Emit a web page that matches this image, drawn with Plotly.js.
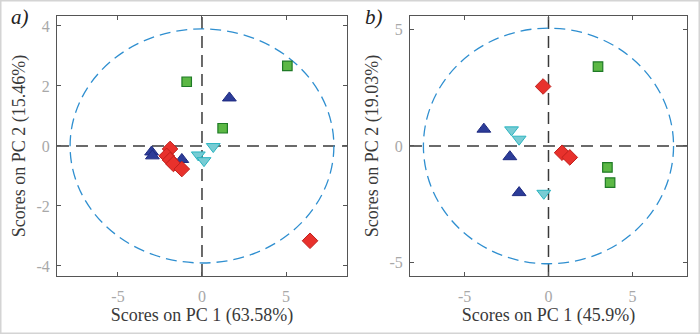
<!DOCTYPE html>
<html>
<head>
<meta charset="utf-8">
<script src="https://cdn.plot.ly/plotly-3.0.1.min.js"></script>
<style>html,body{margin:0;padding:0;background:#fff;}#chart{width:700px;height:334px;}</style>
</head>
<body>
<div id="chart"></div>
<script>
// Panel a) PCA scores
const aRedX = [-1.9, -2.1, -1.9, -1.7, -1.2, 6.43];
const aRedY = [-0.1, -0.33, -0.47, -0.6, -0.77, -3.16];
const aBlueX = [-3.0, -2.95, -1.2, 1.63];
const aBlueY = [-0.2, -0.33, -0.45, 1.6];
const aCyanX = [-0.22, 0.12, 0.67];
const aCyanY = [-0.3, -0.49, -0.02];
const aGreenX = [-0.91, 1.23, 5.08];
const aGreenY = [2.14, 0.59, 2.67];
const aEllipse = [7.85, 3.9];
const aXTicks = [-5, 0, 5];
const aXTickText = ['-5', '0', '5'];
const aYTicks = [-4, -2, 0, 2, 4];
const aYTickText = ['-4', '-2', '0', '2', '4'];
const aXTitle = 'Scores on PC 1 (63.58%)';
const aYTitle = 'Scores on PC 2 (15.46%)';

// Panel b) PCA scores
const bRedX = [-0.32, 0.81, 1.27];
const bRedY = [2.55, -0.29, -0.49];
const bBlueX = [-3.85, -2.3, -1.75];
const bBlueY = [0.72, -0.46, -2.0];
const bCyanX = [-2.2, -1.75, -0.28];
const bCyanY = [0.69, 0.29, -2.03];
const bGreenX = [2.95, 3.51, 3.67];
const bGreenY = [3.4, -0.92, -1.57];
const bEllipse = [7.45, 5.05];
const bXTicks = [-5, 0, 5];
const bXTickText = ['-5', '0', '5'];
const bYTicks = [-5, 0, 5];
const bYTickText = ['-5', '0', '5'];
const bXTitle = 'Scores on PC 1 (45.9%)';
const bYTitle = 'Scores on PC 2 (19.03%)';

const red = {color:'#e8312c', line:{color:'#c0201c', width:1}, symbol:'diamond', size:12};
const blue = {color:'#2c3c98', line:{color:'#1e2a80', width:1}, symbol:'triangle-up', size:12};
const cyan = {color:'#78ccd4', line:{color:'#2ab4c0', width:1}, symbol:'triangle-down', size:12};
const green = {color:'#5cb845', line:{color:'#1f7a26', width:1.2}, symbol:'square', size:9.5};

function tr(x, y, m, ax) {
  return {x:x, y:y, type:'scatter', mode:'markers', marker:m, xaxis:ax[0], yaxis:ax[1], showlegend:false, hoverinfo:'skip'};
}
const A = ['x','y'], B = ['x2','y2'];
const data = [
  tr(aGreenX, aGreenY, green, A), tr(aBlueX, aBlueY, blue, A), tr(aRedX, aRedY, red, A), tr(aCyanX, aCyanY, cyan, A),
  tr(bGreenX, bGreenY, green, B), tr(bBlueX, bBlueY, blue, B), tr(bRedX, bRedY, red, B), tr(bCyanX, bCyanY, cyan, B)
];

const font = 'Liberation Serif, DejaVu Serif, serif';
function axis(domain, range, vals, text, title, anchor, isX) {
  return {domain:domain, range:range, anchor:anchor, tickvals:vals, ticktext:text, ticks:'inside', ticklen:4, tickcolor:'#555',
    showline:true, linecolor:'#555', linewidth:1, mirror:'ticks', showgrid:false, zeroline:false,
    ticklabelstandoff: isX ? 6 : 3,
    tickfont:{family:font, size:16, color:'#a8a8a8'},
    title:{text:title, font:{family:font, size:18, color:'#3a3a3a'}, standoff: isX ? 4 : 6}};
}
const dash = {color:'#3a3a3a', width:1.5, dash:'12px,7px'};
const ell = {color:'#2f8fd0', width:1.3, dash:'11px,6px'};
const shapes = [
  {type:'line', xref:'x', yref:'y domain', x0:0, x1:0, y0:0, y1:1, line:dash, layer:'below'},
  {type:'line', xref:'x domain', yref:'y', x0:0, x1:1, y0:0, y1:0, line:dash, layer:'below'},
  {type:'circle', xref:'x', yref:'y', x0:-aEllipse[0], x1:aEllipse[0], y0:-aEllipse[1], y1:aEllipse[1], line:ell, layer:'below'},
  {type:'line', xref:'x2', yref:'y2 domain', x0:0, x1:0, y0:0, y1:1, line:dash, layer:'below'},
  {type:'line', xref:'x2 domain', yref:'y2', x0:0, x1:1, y0:0, y1:0, line:dash, layer:'below'},
  {type:'circle', xref:'x2', yref:'y2', x0:-bEllipse[0], x1:bEllipse[0], y0:-bEllipse[1], y1:bEllipse[1], line:ell, layer:'below'},
  {type:'rect', xref:'paper', yref:'paper', x0:0, x1:1, y0:0, y1:1, line:{color:'#d4d4d4', width:3}}
];
const yd = [0.174, 0.952];
const layout = {
  width:700, height:334, margin:{l:0, r:0, t:0, b:0},
  paper_bgcolor:'#fff', plot_bgcolor:'#fff', showlegend:false,
  xaxis: axis([0.0814, 0.4957], [-8.63, 8.63], aXTicks, aXTickText, aXTitle, 'y', true),
  yaxis: axis(yd, [-4.33, 4.33], aYTicks, aYTickText, aYTitle, 'x', false),
  xaxis2: axis([0.5857, 0.9814], [-8.25, 8.25], bXTicks, bXTickText, bXTitle, 'y2', true),
  yaxis2: axis(yd, [-5.57, 5.57], bYTicks, bYTickText, bYTitle, 'x2', false),
  shapes: shapes,
  annotations: [
    {text:'a)', xref:'paper', yref:'paper', x:0.013, y:0.99, xanchor:'left', yanchor:'top', showarrow:false,
     font:{family:font, size:21, color:'#222', style:'italic'}},
    {text:'b)', xref:'paper', yref:'paper', x:0.519, y:0.99, xanchor:'left', yanchor:'top', showarrow:false,
     font:{family:font, size:21, color:'#222', style:'italic'}}
  ]
};
Plotly.newPlot('chart', data, layout, {staticPlot:true, displayModeBar:false});
</script>
</body>
</html>
